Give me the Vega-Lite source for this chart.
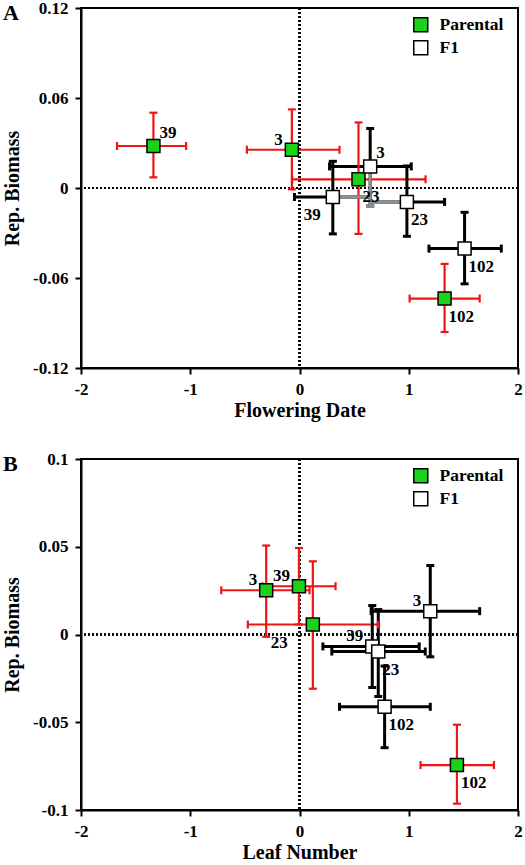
{
  "$schema": "https://vega.github.io/schema/vega-lite/v6.json",
  "padding": {"left": 1, "top": -2, "right": 0, "bottom": 0},
  "background": "white",
  "config": {
    "view": {"stroke": "black", "strokeWidth": 2},
    "axis": {"domainColor": "black", "domainWidth": 2, "tickColor": "black", "tickWidth": 2, "tickSize": 6, "labelFont": "Liberation Serif", "labelFontWeight": "bold", "labelFontSize": 17, "labelColor": "black", "titleFont": "Liberation Serif", "titleFontWeight": "bold", "titleFontSize": 20, "titleColor": "black", "grid": false, "labelFlush": false},
    "axisX": {"labelPadding": 7, "titlePadding": 3, "titleFont": "Liberation Serif", "labelFont": "Liberation Serif"},
    "axisY": {"labelPadding": 7, "titlePadding": 10, "titleFont": "Liberation Serif", "labelFont": "Liberation Serif"},
    "legend": {"title": null, "orient": "none", "symbolType": "square", "symbolSize": 196, "symbolStrokeColor": "black", "symbolStrokeWidth": 1.5, "symbolOpacity": 1, "labelFont": "Liberation Serif", "labelFontWeight": "bold", "labelFontSize": 17.5, "labelColor": "black", "labelOffset": 10, "rowPadding": 2}
  },
  "data": {"values": [
    {"panel": "A", "group": "Parental", "id": "39", "x": -1.337, "xlo": -1.67, "xhi": -1.038, "y": 0.028, "ylo": 0.0071, "yhi": 0.0502, "pos": "ur"},
    {"panel": "A", "group": "Parental", "id": "3", "x": -0.07, "xlo": -0.482, "xhi": 0.366, "y": 0.0255, "ylo": -0.0009, "yhi": 0.0524, "pos": "ul"},
    {"panel": "A", "group": "Parental", "id": "23", "x": 0.54, "xlo": -0.067, "xhi": 1.154, "y": 0.0058, "ylo": -0.0306, "yhi": 0.0437, "pos": "lr"},
    {"panel": "A", "group": "Parental", "id": "102", "x": 1.328, "xlo": 1.008, "xhi": 1.649, "y": -0.0737, "ylo": -0.096, "yhi": -0.0506, "pos": "lr"},
    {"panel": "A", "group": "F1", "id": "3", "x": 0.647, "xlo": 0.275, "xhi": 1.023, "y": 0.0144, "ylo": -0.012, "yhi": 0.0397, "pos": "ur"},
    {"panel": "A", "group": "F1", "id": "39", "x": 0.305, "xlo": -0.046, "xhi": 0.656, "y": -0.006, "ylo": -0.0306, "yhi": 0.0178, "pos": "ll"},
    {"panel": "A", "group": "F1", "id": "23", "x": 0.983, "xlo": 0.638, "xhi": 1.328, "y": -0.0093, "ylo": -0.0322, "yhi": 0.0147, "pos": "lr"},
    {"panel": "A", "group": "F1", "id": "102", "x": 1.511, "xlo": 1.185, "xhi": 1.847, "y": -0.0404, "ylo": -0.0639, "yhi": -0.0162, "pos": "lr"},
    {"panel": "B", "group": "Parental", "id": "3", "x": -0.305, "xlo": -0.716, "xhi": 0.092, "y": 0.0252, "ylo": -0.0013, "yhi": 0.0507, "pos": "ul"},
    {"panel": "B", "group": "Parental", "id": "39", "x": -0.005, "xlo": -0.34, "xhi": 0.33, "y": 0.0275, "ylo": 0.0057, "yhi": 0.0493, "pos": "ul"},
    {"panel": "B", "group": "Parental", "id": "23", "x": 0.122, "xlo": -0.473, "xhi": 0.718, "y": 0.0057, "ylo": -0.0309, "yhi": 0.0417, "pos": "lfar"},
    {"panel": "B", "group": "Parental", "id": "102", "x": 1.441, "xlo": 1.108, "xhi": 1.78, "y": -0.0744, "ylo": -0.0964, "yhi": -0.0514, "pos": "lr"},
    {"panel": "B", "group": "F1", "id": "3", "x": 1.197, "xlo": 0.656, "xhi": 1.649, "y": 0.0133, "ylo": -0.0127, "yhi": 0.0393, "pos": "ul"},
    {"panel": "B", "group": "F1", "id": "39", "x": 0.666, "xlo": 0.214, "xhi": 1.096, "y": -0.0068, "ylo": -0.0302, "yhi": 0.0165, "pos": "ul"},
    {"panel": "B", "group": "F1", "id": "23", "x": 0.721, "xlo": 0.296, "xhi": 1.151, "y": -0.0097, "ylo": -0.0353, "yhi": 0.0142, "pos": "lr"},
    {"panel": "B", "group": "F1", "id": "102", "x": 0.779, "xlo": 0.366, "xhi": 1.197, "y": -0.0412, "ylo": -0.0645, "yhi": -0.018, "pos": "lr"}
  ]},
  "spacing": 28,
  "resolve": {"scale": {"x": "independent", "y": "independent", "fill": "independent"}, "legend": {"fill": "independent"}},
  "vconcat": [
    {
      "width": 437, "height": 360,
      "transform": [{"filter": "datum.panel == 'A'"}],
      "layer": [
        {"mark": {"type": "rule", "strokeDash": [2, 2], "strokeWidth": 1.6, "color": "black"}, "encoding": {"y": {"datum": 0, "type": "quantitative"}}},
        {"mark": {"type": "rule", "strokeDash": [2, 2], "strokeWidth": 1.6, "color": "black"}, "encoding": {"x": {"datum": 0, "type": "quantitative"}}},
        {"mark": {"type": "rule"}, "encoding": {
          "x": {"field": "xlo", "type": "quantitative", "title": "Flowering Date", "scale": {"domain": [-2, 2], "nice": false, "zero": false}, "axis": {"values": [-2, -1, 0, 1, 2], "format": "d", "labelExpr": "replace(datum.label, '\u2212', '-')"}},
          "x2": {"field": "xhi"},
          "y": {"field": "y", "type": "quantitative", "title": "Rep. Biomass", "scale": {"domain": [-0.12, 0.12], "nice": false, "zero": false}, "axis": {"values": [-0.12, -0.06, 0, 0.06, 0.12], "format": ".2~f", "labelExpr": "replace(datum.label, '\u2212', '-')"}},
          "color": {"field": "group", "type": "nominal", "scale": {"domain": ["Parental", "F1"], "range": ["#f01414", "#000000"]}, "legend": null},
          "strokeWidth": {"field": "group", "type": "nominal", "scale": {"domain": ["Parental", "F1"], "range": [2.2, 3]}, "legend": null}}},
        {"mark": {"type": "rule"}, "encoding": {
          "x": {"field": "x", "type": "quantitative", "title": "Flowering Date"},
          "y": {"field": "ylo", "type": "quantitative", "title": "Rep. Biomass"},
          "y2": {"field": "yhi"},
          "color": {"field": "group", "type": "nominal", "legend": null},
          "strokeWidth": {"field": "group", "type": "nominal", "legend": null}}},
        {"transform": [{"filter": "!(datum.group == 'F1' && datum.id == '23')"}], "mark": {"type": "point", "shape": "M0,-1V1", "filled": false, "size": 64, "opacity": 1}, "encoding": {
          "x": {"field": "xlo", "type": "quantitative", "title": "Flowering Date"},
          "y": {"field": "y", "type": "quantitative", "title": "Rep. Biomass"},
          "color": {"field": "group", "type": "nominal", "legend": null},
          "strokeWidth": {"field": "group", "type": "nominal", "legend": null}}},
        {"transform": [{"filter": "!(datum.group == 'F1' && datum.id == '39')"}], "mark": {"type": "point", "shape": "M0,-1V1", "filled": false, "size": 64, "opacity": 1}, "encoding": {
          "x": {"field": "xhi", "type": "quantitative", "title": "Flowering Date"},
          "y": {"field": "y", "type": "quantitative", "title": "Rep. Biomass"},
          "color": {"field": "group", "type": "nominal", "legend": null},
          "strokeWidth": {"field": "group", "type": "nominal", "legend": null}}},
        {"mark": {"type": "point", "shape": "M-1,0H1", "filled": false, "size": 64, "opacity": 1}, "encoding": {
          "x": {"field": "x", "type": "quantitative", "title": "Flowering Date"},
          "y": {"field": "ylo", "type": "quantitative", "title": "Rep. Biomass"},
          "color": {"field": "group", "type": "nominal", "legend": null},
          "strokeWidth": {"field": "group", "type": "nominal", "legend": null}}},
        {"mark": {"type": "point", "shape": "M-1,0H1", "filled": false, "size": 64, "opacity": 1}, "encoding": {
          "x": {"field": "x", "type": "quantitative", "title": "Flowering Date"},
          "y": {"field": "yhi", "type": "quantitative", "title": "Rep. Biomass"},
          "color": {"field": "group", "type": "nominal", "legend": null},
          "strokeWidth": {"field": "group", "type": "nominal", "legend": null}}},
        {"transform": [{"filter": "datum.group == 'F1' && datum.id == '39'"}], "mark": {"type": "rule", "color": "#8a9292", "strokeWidth": 3}, "encoding": {
          "x": {"field": "x", "type": "quantitative", "title": "Flowering Date"}, "x2": {"field": "xhi"},
          "y": {"field": "y", "type": "quantitative", "title": "Rep. Biomass"}}},
        {"transform": [{"filter": "datum.group == 'F1' && datum.id == '23'"}], "mark": {"type": "rule", "color": "#8a9292", "strokeWidth": 3}, "encoding": {
          "x": {"field": "xlo", "type": "quantitative", "title": "Flowering Date"}, "x2": {"field": "x"},
          "y": {"field": "y", "type": "quantitative", "title": "Rep. Biomass"}}},
        {"transform": [{"filter": "datum.group == 'F1' && datum.id == '3'"}], "mark": {"type": "rule", "color": "#8a9292", "strokeWidth": 3}, "encoding": {
          "x": {"field": "x", "type": "quantitative", "title": "Flowering Date"},
          "y": {"field": "ylo", "type": "quantitative", "title": "Rep. Biomass"}, "y2": {"field": "y"}}},
        {"transform": [{"filter": "datum.group == 'F1' && datum.id == '3'"}], "mark": {"type": "point", "shape": "M-1,0H1", "filled": false, "size": 64, "opacity": 1, "color": "#8a9292", "strokeWidth": 3}, "encoding": {
          "x": {"field": "x", "type": "quantitative", "title": "Flowering Date"},
          "y": {"field": "ylo", "type": "quantitative", "title": "Rep. Biomass"}}},
        {"mark": {"type": "point", "shape": "square", "filled": true, "size": 169, "stroke": "black", "strokeWidth": 1.5, "opacity": 1}, "encoding": {
          "x": {"field": "x", "type": "quantitative", "title": "Flowering Date"},
          "y": {"field": "y", "type": "quantitative", "title": "Rep. Biomass"},
          "fill": {"field": "group", "type": "nominal", "scale": {"domain": ["Parental", "F1"], "range": ["#19d219", "#ffffff"]}, "legend": {"legendX": 331, "legendY": 8}}}},
        {"transform": [{"filter": "datum.pos == 'ur'"}], "mark": {"type": "text", "align": "left", "baseline": "middle", "dx": 6, "dy": -13, "font": "Liberation Serif", "fontWeight": "bold", "fontSize": 17, "color": "black"}, "encoding": {
          "x": {"field": "x", "type": "quantitative", "title": "Flowering Date"}, "y": {"field": "y", "type": "quantitative", "title": "Rep. Biomass"}, "text": {"field": "id"}}},
        {"transform": [{"filter": "datum.pos == 'ul'"}], "mark": {"type": "text", "align": "right", "baseline": "middle", "dx": -9, "dy": -10, "font": "Liberation Serif", "fontWeight": "bold", "fontSize": 17, "color": "black"}, "encoding": {
          "x": {"field": "x", "type": "quantitative", "title": "Flowering Date"}, "y": {"field": "y", "type": "quantitative", "title": "Rep. Biomass"}, "text": {"field": "id"}}},
        {"transform": [{"filter": "datum.pos == 'lr'"}], "mark": {"type": "text", "align": "left", "baseline": "middle", "dx": 4, "dy": 18, "font": "Liberation Serif", "fontWeight": "bold", "fontSize": 17, "color": "black"}, "encoding": {
          "x": {"field": "x", "type": "quantitative", "title": "Flowering Date"}, "y": {"field": "y", "type": "quantitative", "title": "Rep. Biomass"}, "text": {"field": "id"}}},
        {"transform": [{"filter": "datum.pos == 'll'"}], "mark": {"type": "text", "align": "right", "baseline": "middle", "dx": -12, "dy": 18, "font": "Liberation Serif", "fontWeight": "bold", "fontSize": 17, "color": "black"}, "encoding": {
          "x": {"field": "x", "type": "quantitative", "title": "Flowering Date"}, "y": {"field": "y", "type": "quantitative", "title": "Rep. Biomass"}, "text": {"field": "id"}}},
        {"data": {"values": [{"letter": "A"}]}, "mark": {"type": "text", "align": "left", "baseline": "middle", "dx": -78, "dy": 5, "font": "Liberation Serif", "fontWeight": "bold", "fontSize": 22, "color": "black"}, "encoding": {
          "x": {"datum": -2, "type": "quantitative"}, "y": {"datum": 0.12, "type": "quantitative"}, "text": {"field": "letter"}}}
      ]
    },
    {
      "width": 437, "height": 351,
      "transform": [{"filter": "datum.panel == 'B'"}],
      "layer": [
        {"mark": {"type": "rule", "strokeDash": [2, 2], "strokeWidth": 1.6, "color": "black"}, "encoding": {"y": {"datum": 0, "type": "quantitative"}}},
        {"mark": {"type": "rule", "strokeDash": [2, 2], "strokeWidth": 1.6, "color": "black"}, "encoding": {"x": {"datum": 0, "type": "quantitative"}}},
        {"mark": {"type": "rule"}, "encoding": {
          "x": {"field": "xlo", "type": "quantitative", "title": "Leaf Number", "scale": {"domain": [-2, 2], "nice": false, "zero": false}, "axis": {"values": [-2, -1, 0, 1, 2], "format": "d", "labelExpr": "replace(datum.label, '\u2212', '-')"}},
          "x2": {"field": "xhi"},
          "y": {"field": "y", "type": "quantitative", "title": "Rep. Biomass", "scale": {"domain": [-0.1, 0.1], "nice": false, "zero": false}, "axis": {"values": [-0.1, -0.05, 0, 0.05, 0.1], "format": ".2~f", "labelExpr": "replace(datum.label, '\u2212', '-')"}},
          "color": {"field": "group", "type": "nominal", "scale": {"domain": ["Parental", "F1"], "range": ["#f01414", "#000000"]}, "legend": null},
          "strokeWidth": {"field": "group", "type": "nominal", "scale": {"domain": ["Parental", "F1"], "range": [2.2, 3]}, "legend": null}}},
        {"mark": {"type": "rule"}, "encoding": {
          "x": {"field": "x", "type": "quantitative", "title": "Leaf Number"},
          "y": {"field": "ylo", "type": "quantitative", "title": "Rep. Biomass"},
          "y2": {"field": "yhi"},
          "color": {"field": "group", "type": "nominal", "legend": null},
          "strokeWidth": {"field": "group", "type": "nominal", "legend": null}}},
        {"mark": {"type": "point", "shape": "M0,-1V1", "filled": false, "size": 64, "opacity": 1}, "encoding": {
          "x": {"field": "xlo", "type": "quantitative", "title": "Leaf Number"},
          "y": {"field": "y", "type": "quantitative", "title": "Rep. Biomass"},
          "color": {"field": "group", "type": "nominal", "legend": null},
          "strokeWidth": {"field": "group", "type": "nominal", "legend": null}}},
        {"mark": {"type": "point", "shape": "M0,-1V1", "filled": false, "size": 64, "opacity": 1}, "encoding": {
          "x": {"field": "xhi", "type": "quantitative", "title": "Leaf Number"},
          "y": {"field": "y", "type": "quantitative", "title": "Rep. Biomass"},
          "color": {"field": "group", "type": "nominal", "legend": null},
          "strokeWidth": {"field": "group", "type": "nominal", "legend": null}}},
        {"mark": {"type": "point", "shape": "M-1,0H1", "filled": false, "size": 64, "opacity": 1}, "encoding": {
          "x": {"field": "x", "type": "quantitative", "title": "Leaf Number"},
          "y": {"field": "ylo", "type": "quantitative", "title": "Rep. Biomass"},
          "color": {"field": "group", "type": "nominal", "legend": null},
          "strokeWidth": {"field": "group", "type": "nominal", "legend": null}}},
        {"mark": {"type": "point", "shape": "M-1,0H1", "filled": false, "size": 64, "opacity": 1}, "encoding": {
          "x": {"field": "x", "type": "quantitative", "title": "Leaf Number"},
          "y": {"field": "yhi", "type": "quantitative", "title": "Rep. Biomass"},
          "color": {"field": "group", "type": "nominal", "legend": null},
          "strokeWidth": {"field": "group", "type": "nominal", "legend": null}}},
        {"mark": {"type": "point", "shape": "square", "filled": true, "size": 169, "stroke": "black", "strokeWidth": 1.5, "opacity": 1}, "encoding": {
          "x": {"field": "x", "type": "quantitative", "title": "Leaf Number"},
          "y": {"field": "y", "type": "quantitative", "title": "Rep. Biomass"},
          "fill": {"field": "group", "type": "nominal", "scale": {"domain": ["Parental", "F1"], "range": ["#19d219", "#ffffff"]}, "legend": {"legendX": 331, "legendY": 8}}}},
        {"transform": [{"filter": "datum.pos == 'ul'"}], "mark": {"type": "text", "align": "right", "baseline": "middle", "dx": -9, "dy": -10, "font": "Liberation Serif", "fontWeight": "bold", "fontSize": 17, "color": "black"}, "encoding": {
          "x": {"field": "x", "type": "quantitative", "title": "Leaf Number"}, "y": {"field": "y", "type": "quantitative", "title": "Rep. Biomass"}, "text": {"field": "id"}}},
        {"transform": [{"filter": "datum.pos == 'lr'"}], "mark": {"type": "text", "align": "left", "baseline": "middle", "dx": 4, "dy": 18, "font": "Liberation Serif", "fontWeight": "bold", "fontSize": 17, "color": "black"}, "encoding": {
          "x": {"field": "x", "type": "quantitative", "title": "Leaf Number"}, "y": {"field": "y", "type": "quantitative", "title": "Rep. Biomass"}, "text": {"field": "id"}}},
        {"transform": [{"filter": "datum.pos == 'lfar'"}], "mark": {"type": "text", "align": "right", "baseline": "middle", "dx": -25, "dy": 19, "font": "Liberation Serif", "fontWeight": "bold", "fontSize": 17, "color": "black"}, "encoding": {
          "x": {"field": "x", "type": "quantitative", "title": "Leaf Number"}, "y": {"field": "y", "type": "quantitative", "title": "Rep. Biomass"}, "text": {"field": "id"}}},
        {"data": {"values": [{"letter": "B"}]}, "mark": {"type": "text", "align": "left", "baseline": "middle", "dx": -78, "dy": 5, "font": "Liberation Serif", "fontWeight": "bold", "fontSize": 22, "color": "black"}, "encoding": {
          "x": {"datum": -2, "type": "quantitative"}, "y": {"datum": 0.1, "type": "quantitative"}, "text": {"field": "letter"}}}
      ]
    }
  ]
}
